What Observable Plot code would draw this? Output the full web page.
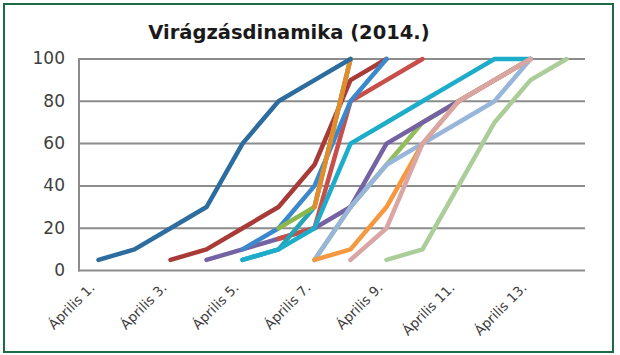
<!DOCTYPE html>
<html>
<head>
<meta charset="utf-8">
<script src="https://cdn.jsdelivr.net/npm/d3@7"></script>
<script src="https://cdn.jsdelivr.net/npm/@observablehq/plot@0.6"></script>
<style>
  html, body { margin: 0; padding: 0; background: #fff; }
  #wrap { position: relative; width: 620px; height: 355px; background: #fff; overflow: hidden; }
  #border { position: absolute; left: 3px; top: 3px; width: 607px; height: 346px; border: 2.5px solid #1d6b45; }
  #title { position: absolute; left: 0; top: 21px; width: 578px; text-align: center;
           font: bold 19.5px "DejaVu Sans", sans-serif; color: #1a1a1a; }
  #chart { position: absolute; left: 0; top: 0; }
</style>
</head>
<body>
<div id="wrap">
  <div id="border"></div>
  <div id="chart"></div>
  <div id="title">Virágzásdinamika (2014.)</div>
</div>
<script>
// Categories (days)
const days = ["Április 1.","Április 2.","Április 3.","Április 4.","Április 5.","Április 6.","Április 7.",
              "Április 8.","Április 9.","Április 10.","Április 11.","Április 12.","Április 13.","Április 14."];
const tickLabels = ["Április 1.","Április 3.","Április 5.","Április 7.","Április 9.","Április 11.","Április 13."];
const yTicks = [0, 20, 40, 60, 80, 100];

// Series values (one per day, null = no data), listed in drawing order
const sGreen2     = [null,null,null,null,null,null,5,30,50,70,80,90,100,null];
const sPurple     = [null,null,null,5,10,15,20,30,60,70,80,90,100,null];
const sDarkRed    = [null,null,5,10,20,30,50,90,100,null,null,null,null,null];
const sRed        = [null,null,null,null,null,15,20,80,90,100,null,null,null,null];
const sBlue       = [null,null,null,null,10,20,40,80,100,null,null,null,null,null];
const sTeal       = [null,null,null,null,5,10,30,100,null,null,null,null,null,null];
const sOrange2    = [null,null,null,null,null,null,30,100,null,null,null,null,null,null];
const sGreen      = [null,null,null,null,null,20,30,100,null,null,null,null,null,null];
const sDarkBlue   = [5,10,20,30,60,80,90,100,null,null,null,null,null,null];
const sCyan       = [null,null,null,null,5,10,20,60,70,80,90,100,100,null];
const sLightBlue  = [null,null,null,null,null,null,5,30,50,60,70,80,100,null];
const sOrange     = [null,null,null,null,null,null,5,10,30,60,80,90,100,null];
const sPink       = [null,null,null,null,null,null,null,5,20,60,80,90,100,null];
const sLightGreen = [null,null,null,null,null,null,null,null,5,10,40,70,90,100];

const seriesList = [
  {name: "green2", values: sGreen2, color: "#93bd5c"},
  {name: "purple", values: sPurple, color: "#7562a2"},
  {name: "darkred", values: sDarkRed, color: "#a83a37"},
  {name: "red", values: sRed, color: "#c84e4a"},
  {name: "blue", values: sBlue, color: "#3b89cc"},
  {name: "teal", values: sTeal, color: "#26a4b3"},
  {name: "green", values: sGreen, color: "#8ab84e"},
  {name: "orange2", values: sOrange2, color: "#e58b2b"},
  {name: "darkblue", values: sDarkBlue, color: "#2c6c9f"},
  {name: "cyan", values: sCyan, color: "#1dadcb"},
  {name: "lightblue", values: sLightBlue, color: "#98b5da"},
  {name: "orange", values: sOrange, color: "#f5983f"},
  {name: "pink", values: sPink, color: "#d9a6a4"},
  {name: "lightgreen", values: sLightGreen, color: "#aacd99"}
];

const data = [];
for (const s of seriesList) {
  s.values.forEach((v, i) => {
    if (v != null) data.push({series: s.name, day: days[i], value: v, color: s.color});
  });
}

const chart = Plot.plot({
  width: 620,
  height: 355,
  marginLeft: 78.5,
  marginRight: 35,
  marginTop: 58.5,
  marginBottom: 85,
  style: {background: "transparent", fontFamily: "'DejaVu Sans', sans-serif", color: "#404040"},
  x: {type: "point", domain: days, padding: 0.48, label: null},
  y: {domain: [0, 100], label: null},
  color: {type: "identity"},
  marks: [
    Plot.gridY(yTicks, {stroke: "#8c8c8c", strokeWidth: 2, strokeOpacity: 1}),
    Plot.frame({anchor: "left", stroke: "#8c8c8c", strokeWidth: 2}),
    Plot.axisY(yTicks, {tickSize: 0, tickPadding: 14, fontSize: 17, fill: "#404040", label: null}),
    Plot.axisX(tickLabels, {tickSize: 0, tickPadding: 15, tickRotate: -45, dx: -6, fontSize: 13.5, fill: "#404040", label: null}),
    Plot.line(data, {x: "day", y: "value", z: "series", stroke: "color", strokeWidth: 4.5,
                     strokeLinecap: "round", strokeLinejoin: "round"})
  ]
});
document.getElementById("chart").appendChild(chart);
</script>
</body>
</html>
